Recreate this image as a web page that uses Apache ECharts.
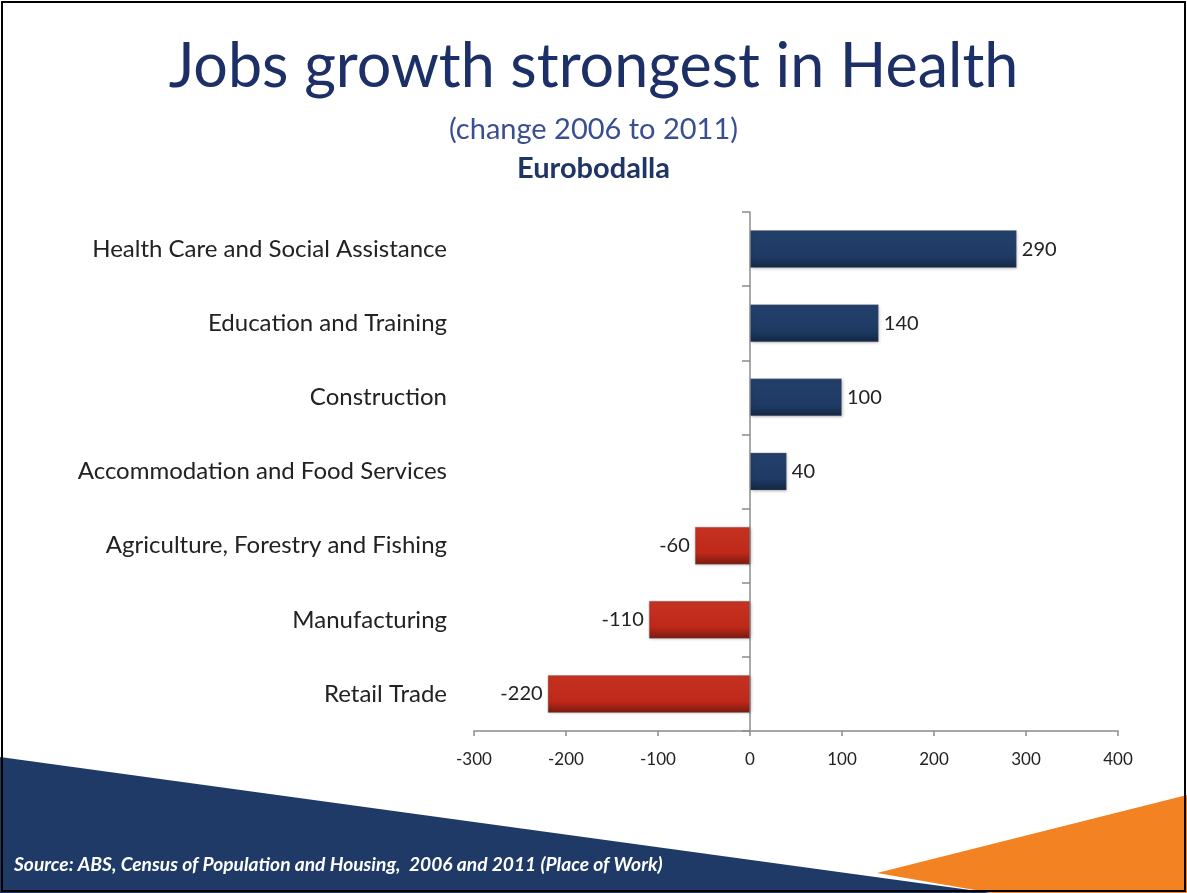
<!DOCTYPE html>
<html>
<head>
<meta charset="utf-8">
<title>Jobs growth strongest in Health</title>
<script src="https://cdn.jsdelivr.net/npm/echarts@6/dist/echarts.min.js"></script>
<style>
  html, body { margin: 0; padding: 0; background: #ffffff; }
  #chart { width: 1187px; height: 893px; }
</style>
</head>
<body>
<div id="chart"></div>
<script>
// Industries, ordered top to bottom
const industries = [
  'Health Care and Social Assistance',
  'Education and Training',
  'Construction',
  'Accommodation and Food Services',
  'Agriculture, Forestry and Fishing',
  'Manufacturing',
  'Retail Trade'
];
// Change in jobs, 2006 to 2011
const jobsChange = [290, 140, 100, 40, -60, -110, -220];
// Value axis range
const axisMin = -300;
const axisMax = 400;
const axisStep = 100;

const FONT = 'Lato, "Open Sans", sans-serif';

const blueFill = new echarts.graphic.LinearGradient(0, 0, 0, 1, [
  { offset: 0, color: '#23406c' },
  { offset: 0.7, color: '#1e3a64' },
  { offset: 1, color: '#132644' }
]);
const redFill = new echarts.graphic.LinearGradient(0, 0, 0, 1, [
  { offset: 0, color: '#c63322' },
  { offset: 0.7, color: '#be2819' },
  { offset: 1, color: '#761a10' }
]);

const barData = jobsChange.map(v => ({
  value: v,
  itemStyle: { color: v >= 0 ? blueFill : redFill },
  label: { position: v >= 0 ? 'right' : 'left' }
}));

const chart = echarts.init(document.getElementById('chart'), null, { renderer: 'canvas' });

chart.setOption({
  backgroundColor: '#ffffff',
  animation: false,
  title: [
    {
      text: 'Jobs growth strongest in Health',
      left: 'center', top: 32,
      textStyle: { fontFamily: FONT, fontSize: 61, fontWeight: 'normal', color: '#1c2f66' }
    },
    {
      text: '(change 2006 to 2011)',
      left: 'center', top: 110,
      textStyle: { fontFamily: FONT, fontSize: 29, fontWeight: 'normal', color: '#3a4f91' }
    },
    {
      text: 'Eurobodalla',
      left: 'center', top: 149,
      textStyle: { fontFamily: FONT, fontSize: 29, fontWeight: 'bold', color: '#1f3566' }
    }
  ],
  grid: { left: 474, right: 69, top: 212, bottom: 162, containLabel: false, outerBoundsMode: 'none' },
  xAxis: {
    type: 'value',
    min: axisMin, max: axisMax, interval: axisStep,
    splitLine: { show: false },
    axisLine: { show: true, lineStyle: { color: '#8c8c8c', width: 1.5 } },
    axisTick: { show: true, length: 5, lineStyle: { color: '#8c8c8c', width: 1.5 } },
    axisLabel: { margin: 20, fontFamily: FONT, fontSize: 17, color: '#222222' }
  },
  yAxis: {
    type: 'category',
    data: industries,
    inverse: true,
    axisLine: { show: true, onZero: true, lineStyle: { color: '#8c8c8c', width: 1.5 } },
    axisTick: { show: true, length: 8, lineStyle: { color: '#8c8c8c', width: 1.5 } },
    axisLabel: { margin: 27, fontFamily: FONT, fontSize: 24, color: '#222222' }
  },
  series: [
    {
      type: 'bar',
      data: barData,
      barWidth: 38,
      itemStyle: {
        borderColor: 'rgba(120,120,120,0.35)',
        borderWidth: 1,
        shadowColor: 'rgba(0,0,0,0.25)',
        shadowBlur: 3,
        shadowOffsetX: 1,
        shadowOffsetY: 1
      },
      label: {
        show: true,
        distance: 5,
        fontFamily: FONT,
        fontSize: 20,
        color: '#222222'
      }
    }
  ],
  graphic: [
    {
      type: 'polygon', z: -1, silent: true,
      shape: { points: [[0, 757], [992, 893], [0, 893]] },
      style: { fill: '#1f3a66' }
    },
    {
      type: 'polygon', z: -1, silent: true,
      shape: { points: [[877, 873], [1187, 795], [1187, 893], [992, 893]] },
      style: { fill: '#f38322' }
    },
    {
      type: 'text', z: 10, silent: true,
      left: 14, top: 855,
      style: {
        text: 'Source: ABS, Census of Population and Housing,  2006 and 2011 (Place of Work)',
        fontFamily: FONT, fontSize: 19.2, fontStyle: 'italic', fontWeight: 'bold', fill: '#ffffff'
      }
    },
    {
      type: 'rect', z: 20, silent: true,
      shape: { x: 2, y: 2, width: 1183, height: 889 },
      style: { fill: 'none', stroke: '#000000', lineWidth: 2 }
    }
  ]
});
</script>
</body>
</html>
